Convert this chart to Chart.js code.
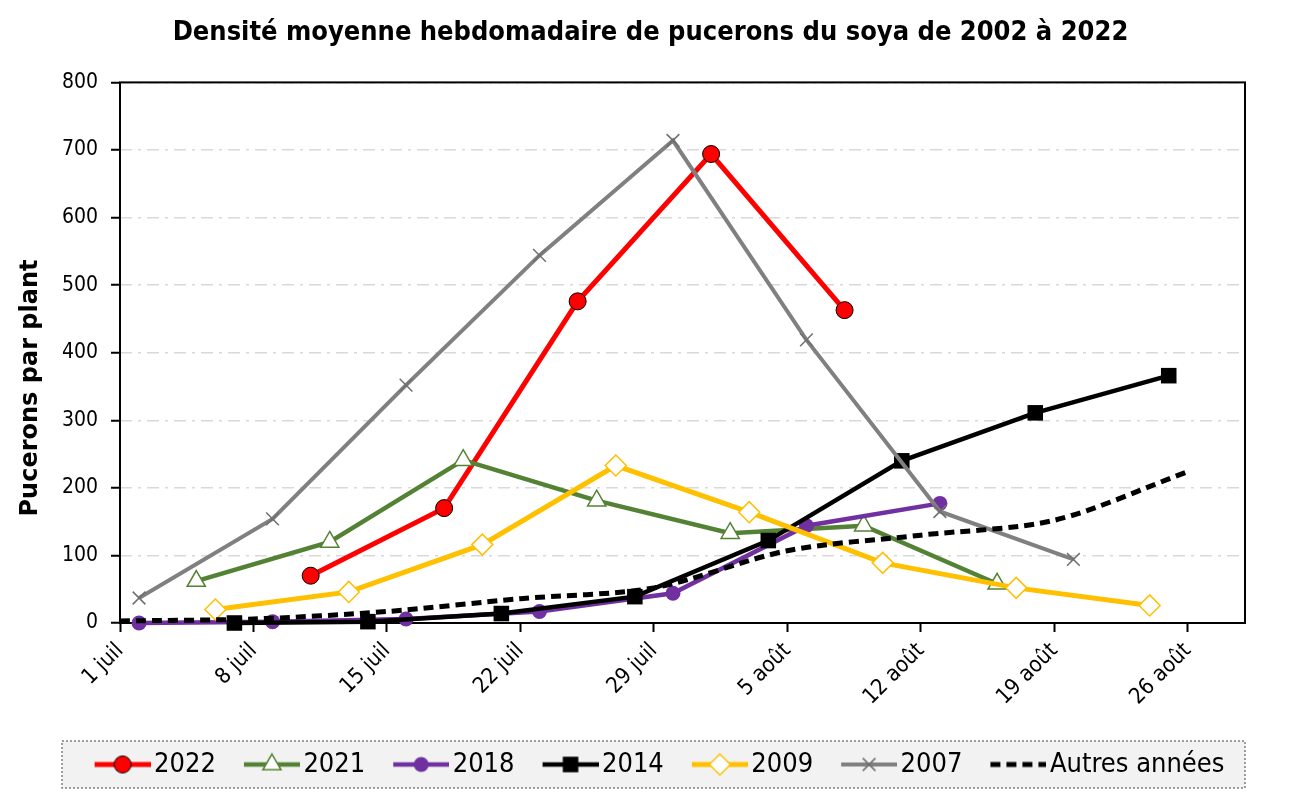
<!DOCTYPE html>
<html lang="fr">
<head>
<meta charset="utf-8">
<title>Densité moyenne hebdomadaire de pucerons du soya</title>
<script src="https://cdn.jsdelivr.net/npm/chart.js@4.4.1/dist/chart.umd.min.js"></script>
<style>
  html, body { margin: 0; padding: 0; background: #fff; }
</style>
</head>
<body>
<canvas id="chart" width="1301" height="801"></canvas>
<script>
// --- Données (jour 0 = 1er juillet) ---
const tickDays = [0, 7, 14, 21, 28, 35, 42, 49, 56];
const tickLabels = ['1 juil', '8 juil', '15 juil', '22 juil', '29 juil', '5 août', '12 août', '19 août', '26 août'];

const days2022 = [10, 17, 24, 31, 38];
const vals2022 = [70, 170, 476, 694, 463];

const days2021 = [4, 11, 18, 25, 32, 39, 46];
const vals2021 = [62, 120, 241, 181, 133, 144, 58];

const days2018 = [1, 8, 15, 22, 29, 36, 43];
const vals2018 = [0, 2, 6, 17, 44, 144, 177];

const days2014 = [6, 13, 20, 27, 34, 41, 48, 55];
const vals2014 = [0, 2, 14, 39, 122, 240, 311, 366];

const days2009 = [5, 12, 19, 26, 33, 40, 47, 54];
const vals2009 = [20, 46, 116, 233, 164, 89, 52, 26];

const days2007 = [1, 8, 15, 22, 29, 36, 43, 50];
const vals2007 = [37, 154, 352, 544, 714, 419, 165, 94];

const daysAutres = [0, 7, 14, 21, 28, 35, 42, 49, 56];
const valsAutres = [3, 6, 17, 36, 52, 107, 130, 152, 224];

/* --- Helpers --- */
const FONT = '"DejaVu Sans Condensed", "DejaVu Sans"';
const pts = (days, vals) => days.map((d, i) => ({ x: d, y: vals[i] }));

function serie(label, days, vals, color, marker, order) {
    return Object.assign({
        label,
        data: pts(days, vals),
        borderColor: color,
        borderWidth: 4.5,
        tension: 0,
        clip: false,
        order
    }, marker);
}

// icône de légende : trait + marqueur (image centrée sur la "boîte" de Chart.js)
function legendIcon(ds) {
    const c = document.createElement('canvas');
    c.width = 84; c.height = 28;
    const ctx = c.getContext('2d');
    ctx.strokeStyle = ds.borderColor;
    ctx.lineWidth = ds.borderWidth;
    ctx.setLineDash(ds.borderDash || []);
    ctx.beginPath(); ctx.moveTo(28, 14); ctx.lineTo(84, 14); ctx.stroke();
    ctx.setLineDash([]);
    if (ds.pointRadius > 0) {
        ctx.fillStyle = ds.pointBackgroundColor;
        ctx.strokeStyle = ds.pointBorderColor;
        ctx.lineWidth = ds.pointBorderWidth;
        Chart.helpers.drawPoint(ctx, {
            pointStyle: ds.pointStyle, rotation: 0,
            radius: ds.pointRadius, borderWidth: ds.pointBorderWidth
        }, 56, 14);
    }
    return c;
}

const datasets = [
    serie('2022', days2022, vals2022, '#ff0000', {
        pointStyle: 'circle', pointRadius: 8.5, pointBackgroundColor: '#ff0000',
        pointBorderColor: '#000', pointBorderWidth: 1, borderWidth: 5
    }, 6),
    serie('2021', days2021, vals2021, '#548235', {
        pointStyle: 'triangle', pointRadius: 10.5, pointBackgroundColor: '#fff',
        pointBorderColor: '#548235', pointBorderWidth: 1.5
    }, 5),
    serie('2018', days2018, vals2018, '#7030a0', {
        pointStyle: 'circle', pointRadius: 7.5, pointBackgroundColor: '#7030a0',
        pointBorderColor: '#7030a0', pointBorderWidth: 0
    }, 4),
    serie('2014', days2014, vals2014, '#000000', {
        pointStyle: 'rect', pointRadius: 11, pointBackgroundColor: '#000',
        pointBorderColor: '#000', pointBorderWidth: 0
    }, 3),
    serie('2009', days2009, vals2009, '#ffc000', {
        pointStyle: 'rectRot', pointRadius: 10.5, pointBackgroundColor: '#fff',
        pointBorderColor: '#ffc000', pointBorderWidth: 1.5, borderWidth: 5
    }, 2),
    serie('2007', days2007, vals2007, '#808080', {
        pointStyle: 'crossRot', pointRadius: 9, pointBackgroundColor: '#808080',
        pointBorderColor: '#6f6f6f', pointBorderWidth: 1.5, borderWidth: 4
    }, 1),
    serie('Autres années', daysAutres, valsAutres, '#000000', {
        pointRadius: 0, borderDash: [10, 6], borderWidth: 5, tension: 0.3
    }, 0)
];

/* --- Cadre du graphique, boîte de légende, titre de l'axe Y --- */
const decor = {
    id: 'decor',
    beforeDraw(chart) {
        const { ctx, legend } = chart;
        ctx.save();
        ctx.fillStyle = '#f2f2f2';
        ctx.fillRect(62, legend.top, 1183, legend.height);
        ctx.setLineDash([2, 2]);
        ctx.strokeStyle = '#808080';
        ctx.lineWidth = 1.5;
        ctx.strokeRect(62, legend.top, 1183, legend.height);
        ctx.restore();
    },
    beforeDatasetsDraw(chart) {
        const { ctx, chartArea: a } = chart;
        ctx.save();
        ctx.strokeStyle = '#000';
        ctx.lineWidth = 2;
        ctx.strokeRect(a.left, a.top, a.right - a.left, a.bottom - a.top);
        ctx.restore();
    },
    afterDraw(chart) {
        const ctx = chart.ctx;
        ctx.save();
        ctx.translate(31, 388);
        ctx.rotate(-Math.PI / 2);
        ctx.font = 'bold 24px "DejaVu Sans"';
        ctx.fillStyle = '#000';
        ctx.textAlign = 'center';
        ctx.textBaseline = 'middle';
        ctx.fillText('Pucerons par plant', 0, 0);
        ctx.restore();
    }
};

new Chart(document.getElementById('chart').getContext('2d'), {
    type: 'line',
    data: { datasets },
    plugins: [decor],
    options: {
        responsive: false,
        animation: false,
        layout: { padding: { left: 0, right: 0, top: 0, bottom: 13 } },
        plugins: {
            tooltip: { enabled: false },
            title: {
                display: true,
                text: 'Densité moyenne hebdomadaire de pucerons du soya de 2002 à 2022',
                color: '#000',
                font: { family: FONT, size: 27, weight: 'bold' },
                padding: { top: 17, bottom: 33 }
            },
            legend: {
                position: 'bottom',
                labels: {
                    usePointStyle: true,
                    pointStyleWidth: 64,
                    padding: 10,
                    color: '#000',
                    font: { family: FONT, size: 27 },
                    generateLabels: (chart) => chart.data.datasets.map((ds, i) => ({
                        text: ds.label,
                        pointStyle: legendIcon(ds),
                        fillStyle: ds.borderColor,
                        strokeStyle: ds.borderColor,
                        lineWidth: 0,
                        hidden: false,
                        datasetIndex: i
                    }))
                }
            }
        },
        scales: {
            x: {
                type: 'linear',
                min: 0,
                max: 59,
                afterFit: (s) => { s.height = 118; },
                afterBuildTicks: (s) => { s.ticks = tickDays.map(v => ({ value: v })); },
                border: { display: false },
                grid: { drawOnChartArea: false, tickLength: 9, tickColor: '#000', tickWidth: 2 },
                ticks: {
                    autoSkip: false, minRotation: 45, maxRotation: 45, padding: 6,
                    color: '#000',
                    font: { family: FONT, size: 22 },
                    callback: (v) => tickLabels[tickDays.indexOf(v)]
                }
            },
            y: {
                min: 0,
                max: 800,
                afterFit: (s) => { s.width = 120; },
                border: { display: false, dash: [12, 6, 3, 6] },
                grid: { color: '#d9d9d9', lineWidth: 1.5, tickLength: 9, tickColor: '#000', tickWidth: 2 },
                ticks: {
                    stepSize: 100, padding: 13, color: '#000',
                    font: { family: FONT, size: 21 }
                }
            },
            // axe fantôme à droite : réserve la marge sans décentrer titre/légende
            yRight: {
                position: 'right',
                afterFit: (s) => { s.width = 56; },
                border: { display: false },
                grid: { display: false },
                ticks: { display: false }
            }
        }
    }
});
</script>
</body>
</html>
